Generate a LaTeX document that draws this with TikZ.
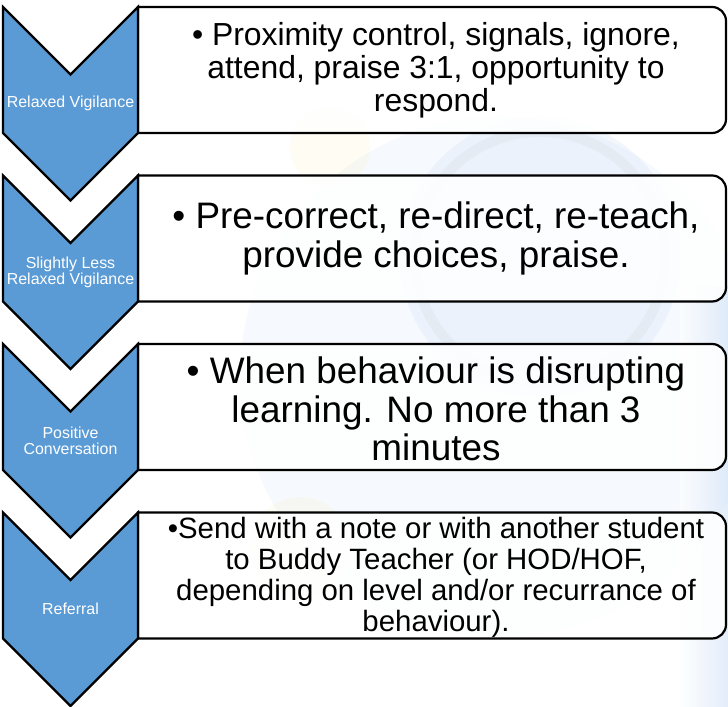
\documentclass[tikz,border=0pt]{standalone}
\usepackage{fontspec}
\setmainfont{Liberation Sans}
\definecolor{chevblue}{RGB}{91,155,213}
\definecolor{hazeblue}{RGB}{170,200,240}
\definecolor{hazeyellow}{RGB}{250,240,170}
\begin{document}
\begin{tikzpicture}[x=1bp,y=1bp,
  chevron/.style={fill=chevblue, draw=black, line width=2.2bp, line join=miter},
  stepbox/.style={fill=white, fill opacity=0.88, draw=black, draw opacity=1, line width=2.2bp},
  steplabel/.style={text=white, align=center, inner sep=0pt,
    font=\fontsize{16}{16.5}\selectfont},
  boxtext/.style={text=black, align=center, inner sep=0pt}]

% page and faint watermark behind the boxes
\useasboundingbox (0,0) rectangle (728,707);
\fill[white] (0,0) rectangle (728,707);
\fill[hazeblue, opacity=0.10] (500,330) circle[radius=260];
\fill[hazeblue, opacity=0.14] (540,450) circle[radius=140];
\draw[gray, opacity=0.06, line width=10bp] (540,450) circle[radius=125];
\fill[hazeyellow, opacity=0.14] (330,560) circle[radius=40];
\fill[hazeyellow, opacity=0.12] (300,160) circle[radius=50];
\shade[left color=white, right color=hazeblue!55, opacity=0.6] (680,0) rectangle (728,420);

% stage 1
\begin{scope}
  \draw[stepbox] (138,700) -- (712,700) arc[start angle=90,end angle=0,radius=14]
    -- (726,588) arc[start angle=0,end angle=-90,radius=14] -- (138,574) -- cycle;
  \draw[chevron] (3,700) -- (70.5,632.5) -- (138,700) -- (138,574) -- (70.5,506.5) -- (3,574) -- cycle;
  \node[steplabel] (l1) at (70.5,603.25) {Relaxed Vigilance};
  \node[boxtext, font=\fontsize{32}{33}\selectfont] (t1) at (436,637)
    {• Proximity control, signals, ignore,\\ attend, praise 3:1, opportunity to\\ respond.};
\end{scope}

% stage 2
\begin{scope}[yshift=-168.5bp]
  \draw[stepbox] (138,700) -- (712,700) arc[start angle=90,end angle=0,radius=14]
    -- (726,588) arc[start angle=0,end angle=-90,radius=14] -- (138,574) -- cycle;
  \draw[chevron] (3,700) -- (70.5,632.5) -- (138,700) -- (138,574) -- (70.5,506.5) -- (3,574) -- cycle;
  \node[steplabel] (l2) at (70.5,603.25) {Slightly Less\\ Relaxed Vigilance};
  \node[boxtext, font=\fontsize{37}{39.5}\selectfont] (t2) at (436,637)
    {• Pre-correct, re-direct, re-teach,\\ provide choices, praise.};
\end{scope}

% stage 3
\begin{scope}[yshift=-337bp]
  \draw[stepbox] (138,700) -- (712,700) arc[start angle=90,end angle=0,radius=14]
    -- (726,588) arc[start angle=0,end angle=-90,radius=14] -- (138,574) -- cycle;
  \draw[chevron] (3,700) -- (70.5,632.5) -- (138,700) -- (138,574) -- (70.5,506.5) -- (3,574) -- cycle;
  \node[steplabel] (l3) at (70.5,603.25) {Positive\\ Conversation};
  \node[boxtext, font=\fontsize{37}{38.5}\selectfont] (t3) at (436,635)
    {• When behaviour is disrupting\\ learning. No more than 3\\ minutes};
\end{scope}

% stage 4
\begin{scope}[yshift=-505.5bp]
  \draw[stepbox] (138,700) -- (712,700) arc[start angle=90,end angle=0,radius=14]
    -- (726,588) arc[start angle=0,end angle=-90,radius=14] -- (138,574) -- cycle;
  \draw[chevron] (3,700) -- (70.5,632.5) -- (138,700) -- (138,574) -- (70.5,506.5) -- (3,574) -- cycle;
  \node[steplabel] (l4) at (70.5,603.25) {Referral};
  \node[boxtext, font=\fontsize{29.5}{31}\selectfont] (t4) at (436,635)
    {•Send with a note or with another student\\ to Buddy Teacher (or HOD/HOF,\\ depending on level and/or recurrance of\\ behaviour).};
\end{scope}
\end{tikzpicture}
\end{document}
